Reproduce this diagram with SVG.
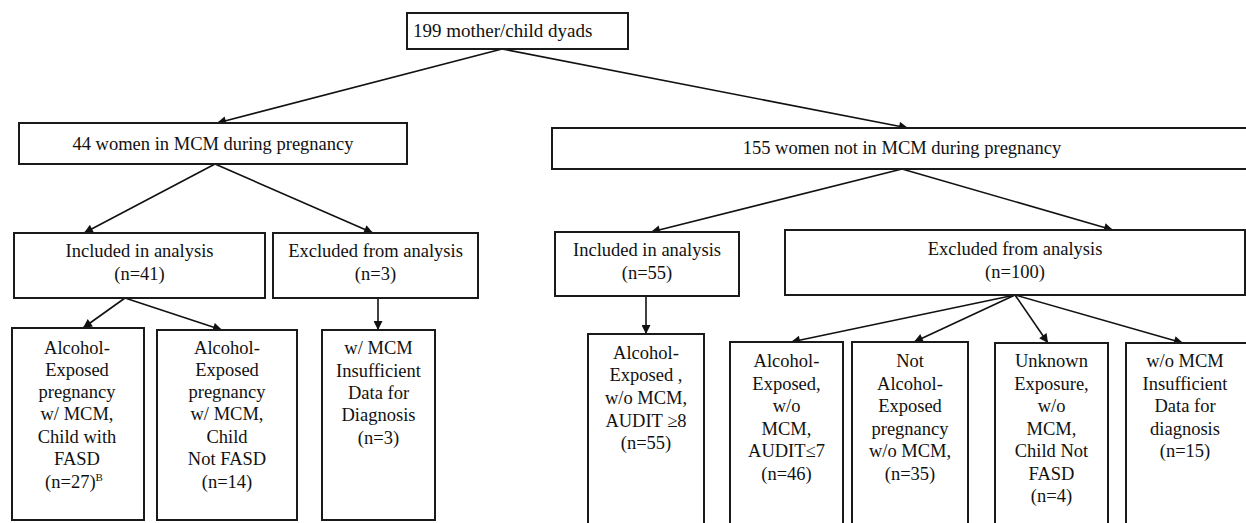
<svg xmlns="http://www.w3.org/2000/svg" width="1246" height="523" viewBox="0 0 1246 523">
<style>
  .box { fill: #ffffff; stroke: #1a1a1a; stroke-width: 2; }
  .t { font-size: 18.5px; fill: #111111; text-anchor: middle; }
  .c { fill: none; stroke: #111111; stroke-width: 1.6; marker-end: url(#ah); }
</style>
<defs>
  <marker id="ah" viewBox="0 0 10 10" refX="10" refY="5" markerWidth="10" markerHeight="9" markerUnits="userSpaceOnUse" orient="auto">
    <path d="M0,0 L10,5 L0,10 z" fill="#111111"/>
  </marker>
</defs>

<g id="connectors">
  <line class="c" x1="502" y1="49" x2="217" y2="123"/>
  <line class="c" x1="502" y1="49" x2="908" y2="128"/>
  <line class="c" x1="215" y1="164" x2="84" y2="233"/>
  <line class="c" x1="215" y1="164" x2="373" y2="233"/>
  <line class="c" x1="902" y1="169" x2="651" y2="232"/>
  <line class="c" x1="902" y1="169" x2="1113" y2="230"/>
  <line class="c" x1="125" y1="298" x2="83" y2="328"/>
  <line class="c" x1="125" y1="298" x2="222" y2="330"/>
  <line class="c" x1="378" y1="298" x2="378" y2="330"/>
  <line class="c" x1="646" y1="296" x2="646" y2="334"/>
  <line class="c" x1="1015" y1="295" x2="791" y2="342"/>
  <line class="c" x1="1015" y1="295" x2="914" y2="342"/>
  <line class="c" x1="1015" y1="295" x2="1048" y2="343"/>
  <line class="c" x1="1015" y1="295" x2="1183" y2="343"/>
</g>

<g font-family="Liberation Serif, serif">
<g id="n-root">
  <rect class="box" x="407" y="13" width="221" height="36"/>
  <text class="t" x="413" y="37" style="text-anchor:start;font-size:19px">199 mother/child dyads</text>
</g>

<g id="n-mcm">
  <rect class="box" x="19" y="123" width="388" height="41"/>
  <text class="t" x="213" y="149.5">44 women in MCM during pregnancy</text>
</g>

<g id="n-nomcm">
  <rect class="box" x="552" y="128" width="702" height="41"/>
  <text class="t" x="902" y="154">155 women not in MCM during pregnancy</text>
</g>

<g id="n-inc41">
  <rect class="box" x="14" y="233" width="251" height="65"/>
  <text class="t" x="139.5" y="257">Included in analysis</text>
  <text class="t" x="139.5" y="280">(n=41)</text>
</g>

<g id="n-exc3">
  <rect class="box" x="273" y="233" width="205" height="65"/>
  <text class="t" x="375.5" y="257">Excluded from analysis</text>
  <text class="t" x="375.5" y="280">(n=3)</text>
</g>

<g id="n-inc55">
  <rect class="box" x="555" y="232" width="184" height="64"/>
  <text class="t" x="647" y="256">Included in analysis</text>
  <text class="t" x="647" y="279">(n=55)</text>
</g>

<g id="n-exc100">
  <rect class="box" x="785" y="230" width="460" height="65"/>
  <text class="t" x="1015" y="255">Excluded from analysis</text>
  <text class="t" x="1015" y="278">(n=100)</text>
</g>

<g id="n-fasd">
  <rect class="box" x="12" y="328" width="132" height="192"/>
  <text class="t" x="77" y="354">Alcohol-</text>
  <text class="t" x="77" y="376">Exposed</text>
  <text class="t" x="77" y="398">pregnancy</text>
  <text class="t" x="77" y="420">w/ MCM,</text>
  <text class="t" x="77" y="443">Child with</text>
  <text class="t" x="77" y="465">FASD</text>
  <text class="t" x="74" y="488">(n=27)<tspan font-size="11" dy="-7">B</tspan></text>
</g>

<g id="n-notfasd">
  <rect class="box" x="157" y="330" width="140" height="190"/>
  <text class="t" x="227" y="354">Alcohol-</text>
  <text class="t" x="227" y="376">Exposed</text>
  <text class="t" x="227" y="398">pregnancy</text>
  <text class="t" x="227" y="420">w/ MCM,</text>
  <text class="t" x="227" y="443">Child</text>
  <text class="t" x="227" y="465">Not FASD</text>
  <text class="t" x="227" y="488">(n=14)</text>
</g>

<g id="n-insuff-mcm">
  <rect class="box" x="322" y="330" width="113" height="190"/>
  <text class="t" x="378.5" y="354">w/ MCM</text>
  <text class="t" x="378.5" y="377">Insufficient</text>
  <text class="t" x="378.5" y="399">Data for</text>
  <text class="t" x="378.5" y="421">Diagnosis</text>
  <text class="t" x="378.5" y="444">(n=3)</text>
</g>

<g id="n-audit8">
  <rect class="box" x="588" y="334" width="116" height="200"/>
  <text class="t" x="646" y="359">Alcohol-</text>
  <text class="t" x="646" y="381">Exposed ,</text>
  <text class="t" x="646" y="404">w/o MCM,</text>
  <text class="t" x="646" y="427">AUDIT ≥8</text>
  <text class="t" x="646" y="449">(n=55)</text>
</g>

<g id="n-audit7">
  <rect class="box" x="730" y="342" width="113" height="192"/>
  <text class="t" x="786.5" y="367">Alcohol-</text>
  <text class="t" x="786.5" y="390">Exposed,</text>
  <text class="t" x="786.5" y="412">w/o</text>
  <text class="t" x="786.5" y="435">MCM,</text>
  <text class="t" x="786.5" y="457">AUDIT≤7</text>
  <text class="t" x="786.5" y="480">(n=46)</text>
</g>

<g id="n-notexposed">
  <rect class="box" x="852" y="342" width="116" height="192"/>
  <text class="t" x="910" y="367">Not</text>
  <text class="t" x="910" y="390">Alcohol-</text>
  <text class="t" x="910" y="412">Exposed</text>
  <text class="t" x="910" y="435">pregnancy</text>
  <text class="t" x="910" y="457">w/o MCM,</text>
  <text class="t" x="910" y="480">(n=35)</text>
</g>

<g id="n-unknown">
  <rect class="box" x="995" y="343" width="113" height="191"/>
  <text class="t" x="1051.5" y="367">Unknown</text>
  <text class="t" x="1051.5" y="390">Exposure,</text>
  <text class="t" x="1051.5" y="412">w/o</text>
  <text class="t" x="1051.5" y="435">MCM,</text>
  <text class="t" x="1051.5" y="457">Child Not</text>
  <text class="t" x="1051.5" y="480">FASD</text>
  <text class="t" x="1051.5" y="502">(n=4)</text>
</g>

<g id="n-insuff-nomcm">
  <rect class="box" x="1126" y="343" width="124" height="191"/>
  <text class="t" x="1185" y="367">w/o MCM</text>
  <text class="t" x="1185" y="390">Insufficient</text>
  <text class="t" x="1185" y="412">Data for</text>
  <text class="t" x="1185" y="435">diagnosis</text>
  <text class="t" x="1185" y="457">(n=15)</text>
</g>
</g>
</svg>
